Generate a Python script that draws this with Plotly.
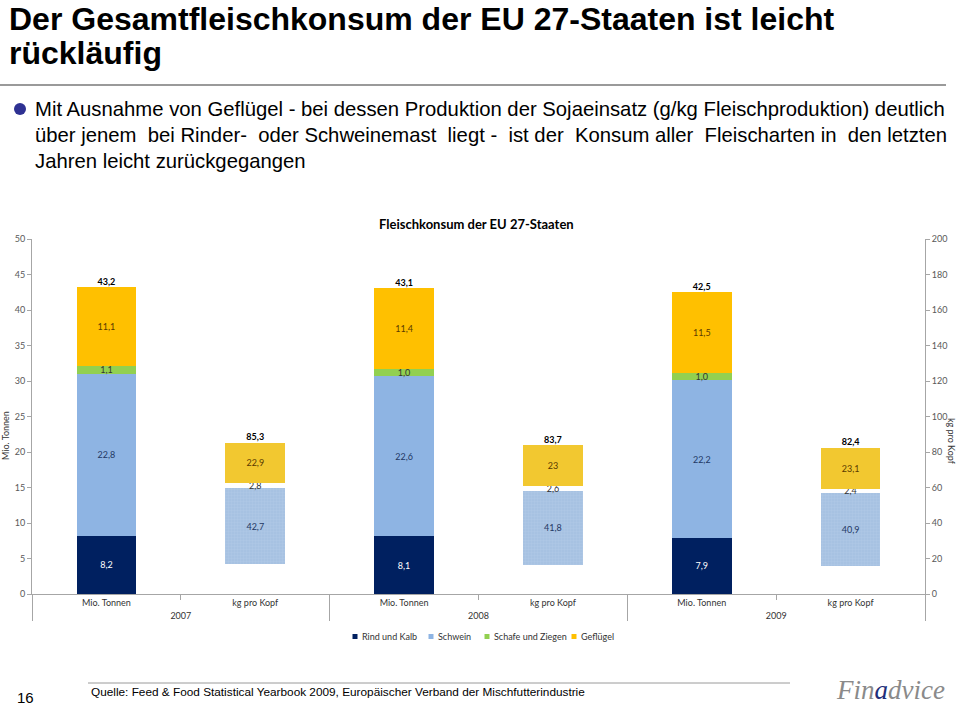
import plotly.graph_objects as go

# ---------------- data ----------------
years = ["2007", "2008", "2009"]
units = ["Mio. Tonnen", "kg pro Kopf"]
series_names = ["Rind und Kalb", "Schwein", "Schafe und Ziegen", "Geflügel"]

rind_mio = [8.2, 8.1, 7.9]
schwein_mio = [22.8, 22.6, 22.2]
schafe_mio = [1.1, 1.0, 1.0]
gefl_mio = [11.1, 11.4, 11.5]
total_mio = [43.2, 43.1, 42.5]

rind_kg = [16.9, 16.3, 16.0]      # hidden segment (estimated)
schwein_kg = [42.7, 41.8, 40.9]
schafe_kg = [2.8, 2.6, 2.4]
gefl_kg = [22.9, 23.0, 23.1]
total_kg = [85.3, 83.7, 82.4]

left_ticks = [0, 5, 10, 15, 20, 25, 30, 35, 40, 45, 50]
right_ticks = [0, 20, 40, 60, 80, 100, 120, 140, 160, 180, 200]

# ---------------- helpers ----------------
def fmt1(v):
    return f"{v:.1f}".replace(".", ",")

def fmtg(v):
    return (f"{v:g}").replace(".", ",")

x_mio = [years, [units[0]] * 3]
x_kg = [years, [units[1]] * 3]

# plot-area pixel geometry
L, R, T, B = 32, 925, 239, 594
W, H = R - L, B - T
def px(x):
    return (x - L) / W
def py(y):
    return (B - y) / H

FONT = "Lato, Carlito, Open Sans, sans-serif"
ARIAL = "Liberation Sans, Arial, sans-serif"

c_rind = "#002060"
c_schwein = "#8EB4E3"
c_schafe = "#92D050"
c_gefl = "#FFC000"
c_gefl_kg = "#F2C830"
c_schwein_kg = "#A7C2E2"
legend_colors = [c_rind, c_schwein, c_schafe, c_gefl]

fig = go.Figure()

common = dict(textposition="inside", insidetextanchor="middle",
              constraintext="none", cliponaxis=False, hoverinfo="skip", showlegend=False)

def mk(color, **kw):
    d = dict(color=color, line=dict(width=0))
    d.update(kw)
    return d

# Mio. Tonnen bars (left axis)
fig.add_trace(go.Bar(x=x_mio, y=rind_mio, name=series_names[0], marker=mk(c_rind),
                     text=[fmt1(v) for v in rind_mio], textfont=dict(color="white", size=9, family=FONT),
                     **common))
fig.add_trace(go.Bar(x=x_mio, y=schwein_mio, name=series_names[1], marker=mk(c_schwein),
                     text=[fmt1(v) for v in schwein_mio], textfont=dict(color="#1F3864", size=9, family=FONT),
                     **common))
fig.add_trace(go.Bar(x=x_mio, y=schafe_mio, name=series_names[2], marker=mk(c_schafe),
                     text=[fmt1(v) for v in schafe_mio], textfont=dict(color="#333333", size=9, family=FONT),
                     **common))
fig.add_trace(go.Bar(x=x_mio, y=gefl_mio, name=series_names[3], marker=mk(c_gefl),
                     text=[fmt1(v) for v in gefl_mio], textfont=dict(color="#5A3A00", size=9, family=FONT),
                     **common))

# kg pro Kopf bars (right axis)
fig.add_trace(go.Bar(x=x_kg, y=rind_kg, yaxis="y2", name=series_names[0], marker=mk("rgba(0,0,0,0)"),
                     showlegend=False, hoverinfo="skip"))
fig.add_trace(go.Bar(x=x_kg, y=schwein_kg, yaxis="y2", name=series_names[1],
                     marker=mk(c_schwein_kg,
                               pattern=dict(shape="+", size=3, solidity=0.15,
                                            fgcolor="#C9DAF0", bgcolor=c_schwein_kg)),
                     text=[fmtg(v) for v in schwein_kg], textfont=dict(color="#1F3864", size=9, family=FONT),
                     **common))
fig.add_trace(go.Bar(x=x_kg, y=schafe_kg, yaxis="y2", name=series_names[2],
                     marker=mk("rgba(255,255,255,1)"),
                     text=[fmtg(v) for v in schafe_kg], textfont=dict(color="#333333", size=9, family=FONT),
                     **common))
fig.add_trace(go.Bar(x=x_kg, y=gefl_kg, yaxis="y2", name=series_names[3], marker=mk(c_gefl_kg),
                     text=[fmtg(v) for v in gefl_kg], textfont=dict(color="#5A3A00", size=9, family=FONT),
                     **common))

# totals
fig.add_trace(go.Scatter(x=x_mio, y=total_mio, mode="text", text=["<b>" + fmt1(v) + "</b>" for v in total_mio],
                         textposition="top center", textfont=dict(size=9, color="#000000", family=FONT),
                         showlegend=False, hoverinfo="skip", cliponaxis=False))
fig.add_trace(go.Scatter(x=x_kg, y=total_kg, yaxis="y2", mode="text", text=["<b>" + fmtg(v) + "</b>" for v in total_kg],
                         textposition="top center", textfont=dict(size=9, color="#000000", family=FONT),
                         showlegend=False, hoverinfo="skip", cliponaxis=False))

axis_gray = "#A6A6A6"
tick_font = dict(size=9, color="#595959", family=FONT)

fig.update_layout(
    width=960, height=710,
    margin=dict(l=L, r=960 - R, t=T, b=710 - B, pad=0),
    paper_bgcolor="white", plot_bgcolor="white",
    barmode="stack", bargap=0.6,
    showlegend=False,
    xaxis=dict(type="multicategory", showline=True, linecolor=axis_gray, linewidth=1,
               ticks="outside", tickcolor=axis_gray, showdividers=True, dividercolor=axis_gray,
               tickfont=dict(size=9, color="#333333", family=FONT), showgrid=False),
    yaxis=dict(range=[0, 50], tickvals=left_ticks, showline=True, linecolor=axis_gray, linewidth=1,
               ticks="outside", ticklen=4, tickcolor=axis_gray, tickfont=tick_font,
               showgrid=False, zeroline=False),
    yaxis2=dict(range=[0, 200], tickvals=right_ticks, overlaying="y", side="right", showline=True,
                linecolor=axis_gray, linewidth=1, ticks="outside", ticklen=4, tickcolor=axis_gray,
                tickfont=tick_font, showgrid=False, zeroline=False),
    font=dict(family=FONT),
)

def justify(line):
    words = line.split(" ")
    out = words[0]
    for i, w in enumerate(words[1:]):
        out += (" &nbsp;" if i % 2 == 1 else " ") + w
    return out

ann = []
shapes = []
# slide title
ann.append(dict(text="<b>Der Gesamtfleischkonsum der EU 27-Staaten ist leicht</b>", x=px(7), y=py(19),
                xanchor="left", yanchor="middle", font=dict(size=32, family=ARIAL, color="#000000")))
ann.append(dict(text="<b>rückläufig</b>", x=px(7), y=py(53),
                xanchor="left", yanchor="middle", font=dict(size=32, family=ARIAL, color="#000000")))
# bullet text
body = ["Mit Ausnahme von Geflügel - bei dessen Produktion der Sojaeinsatz (g/kg Fleischproduktion) deutlich",
        "über jenem bei Rinder- oder Schweinemast liegt - ist der Konsum aller Fleischarten in den letzten",
        "Jahren leicht zurückgegangen"]
body_txt = [body[0], justify(body[1]), body[2]]
for i, line in enumerate(body_txt):
    ann.append(dict(text=line, x=px(33), y=py(109 + 26 * i), xanchor="left", yanchor="middle",
                    font=dict(size=20.3, family=ARIAL, color="#000000")))
# chart title
ann.append(dict(text="<b>Fleischkonsum der EU 27-Staaten</b>", x=px(476), y=py(224), xanchor="center",
                yanchor="middle", font=dict(size=13, family=FONT, color="#000000")))
# axis titles
ann.append(dict(text="Mio. Tonnen", x=px(5), y=py(436), textangle=-90, xanchor="center", yanchor="middle",
                font=dict(size=9, color="#333333", family=FONT)))
ann.append(dict(text="kg pro Kopf", x=px(952), y=py(441), textangle=90, xanchor="center", yanchor="middle",
                font=dict(size=9, color="#333333", family=FONT)))

# legend (compact, Excel style)
legend_sym_x = [355, 431, 487, 574]
for name, col, sx in zip(series_names, legend_colors, legend_sym_x):
    shapes.append(dict(type="rect", x0=px(sx - 2.5), x1=px(sx + 2.5), y0=py(634), y1=py(639),
                       fillcolor=col, line=dict(width=0)))
    ann.append(dict(text=name, x=px(sx + 5), y=py(636.5), xanchor="left", yanchor="middle",
                    font=dict(size=9, color="#333333", family=FONT)))

# footer
ann.append(dict(text="16", x=px(25), y=py(697), xanchor="center", yanchor="middle",
                font=dict(size=15, family=ARIAL, color="#000000")))
ann.append(dict(text="Quelle: Feed & Food Statistical Yearbook 2009, Europäischer Verband der Mischfutterindustrie",
                x=px(89), y=py(692), xanchor="left", yanchor="middle",
                font=dict(size=11.8, family=ARIAL, color="#000000")))
ann.append(dict(text="<i>Fin<span style='color:#1F2E7A'>a</span>dvice</i>", x=px(890), y=py(690),
                xanchor="center", yanchor="middle",
                font=dict(size=27, family="Liberation Serif, serif", color="#8A8A8A")))
for a in ann:
    a.update(xref="paper", yref="paper", showarrow=False)

shapes += [
    dict(type="line", x0=px(0), x1=px(946), y0=py(85), y1=py(85), line=dict(color="#9A9A9A", width=2)),
    dict(type="circle", x0=px(14), x1=px(26), y0=py(103), y1=py(115), fillcolor="#2E3192",
         line=dict(width=0)),
    dict(type="line", x0=px(88), x1=px(790), y0=py(683), y1=py(683), line=dict(color="#9A9A9A", width=1)),
]
for s in shapes:
    s.update(xref="paper", yref="paper")
fig.update_layout(annotations=ann, shapes=shapes)

fig.write_html("out.html")
